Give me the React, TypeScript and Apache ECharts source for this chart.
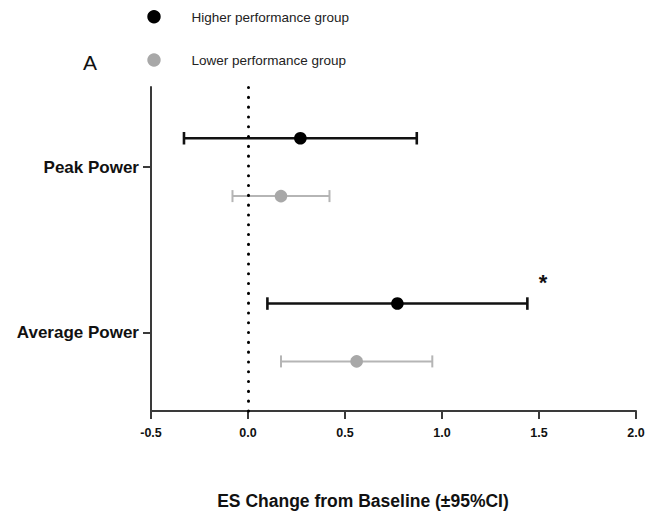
import React, { useEffect, useRef } from "react";
import * as echarts from "echarts";

const categories = ["Peak Power", "Average Power"];
const higherMean = [0.27, 0.77];
const higherLow = [-0.33, 0.1];
const higherHigh = [0.87, 1.44];
const lowerMean = [0.17, 0.56];
const lowerLow = [-0.08, 0.17];
const lowerHigh = [0.42, 0.95];
const xTicks = [-0.5, 0, 0.5, 1.0, 1.5, 2.0];
const groupNames = ["Higher performance group", "Lower performance group"];

const catY = (i: number) => 3 - 2 * i;
const OFFSET = 0.35;

function makeRender(color: string, fill: string, lineW: number, capH: number, r: number) {
  return (params: any, api: any) => {
    const y = api.value(0);
    const lo = api.coord([api.value(1), y]);
    const hi = api.coord([api.value(2), y]);
    const m = api.coord([api.value(3), y]);
    const ls = { stroke: color, lineWidth: lineW };
    return {
      type: "group",
      children: [
        { type: "line", shape: { x1: lo[0], y1: lo[1], x2: hi[0], y2: hi[1] }, style: ls },
        { type: "line", shape: { x1: lo[0], y1: lo[1] - capH / 2, x2: lo[0], y2: lo[1] + capH / 2 }, style: ls },
        { type: "line", shape: { x1: hi[0], y1: hi[1] - capH / 2, x2: hi[0], y2: hi[1] + capH / 2 }, style: ls },
        { type: "circle", shape: { cx: m[0], cy: m[1], r }, style: { fill } },
      ],
    };
  };
}

export default function App() {
  const ref = useRef<HTMLDivElement>(null);
  useEffect(() => {
    if (!ref.current) return;
    const chart = echarts.init(ref.current, undefined, { renderer: "svg" });
    const higherData = categories.map((_, i) => [catY(i) + OFFSET, higherLow[i], higherHigh[i], higherMean[i]]);
    const lowerData = categories.map((_, i) => [catY(i) - OFFSET, lowerLow[i], lowerHigh[i], lowerMean[i]]);
    const font = "'Liberation Sans', Arial, sans-serif";
    chart.setOption({
      animation: false,
      backgroundColor: "#fff",
      grid: { left: 151, right: 12, top: 87, bottom: 110, containLabel: false },
      xAxis: {
        type: "value",
        min: -0.5,
        max: 2.0,
        interval: 0.5,
        splitLine: { show: false },
        axisLine: { onZero: false, lineStyle: { color: "#3a3a3a", width: 2 } },
        axisTick: { show: true, length: 8, lineStyle: { color: "#3a3a3a", width: 2 } },
        axisLabel: {
          margin: 15,
          fontFamily: font,
          fontWeight: "bold",
          fontSize: 12.5,
          color: "#111",
          customValues: xTicks,
          formatter: (v: number) => v.toFixed(1),
        },
      },
      yAxis: {
        type: "value",
        min: 0.05,
        max: 3.97,
        splitLine: { show: false },
        axisLine: { show: true, onZero: false, lineStyle: { color: "#3a3a3a", width: 2 } },
        axisTick: { show: true, length: 8, lineStyle: { color: "#3a3a3a", width: 2 }, customValues: categories.map((_, i) => catY(i)) },
        axisLabel: {
          margin: 12,
          fontFamily: font,
          fontWeight: "bold",
          fontSize: 17,
          color: "#111",
          customValues: categories.map((_, i) => catY(i)),
          formatter: (v: number) => {
            const idx = categories.findIndex((_, i) => Math.abs(catY(i) - v) < 1e-6);
            return idx >= 0 ? categories[idx] : "";
          },
        },
      },
      series: [
        {
          name: groupNames[0],
          type: "custom",
          renderItem: makeRender("#111", "#000", 2.6, 12.5, 6.3),
          encode: { x: [1, 2, 3], y: 0 },
          data: higherData,
          z: 3,
          markLine: {
            silent: true,
            symbol: "none",
            label: { show: false },
            lineStyle: { color: "#000", width: 3, type: [0.1, 9.7], cap: "round" },
            data: [{ xAxis: 0 }],
          },
        },
        {
          name: groupNames[1],
          type: "custom",
          renderItem: makeRender("#b5b5b5", "#a8a8a8", 2, 12, 6.3),
          encode: { x: [1, 2, 3], y: 0 },
          data: lowerData,
          z: 3,
        },
      ],
      graphic: [
        { type: "circle", shape: { cx: 154, cy: 16.7, r: 6.7 }, style: { fill: "#000" } },
        { type: "circle", shape: { cx: 154, cy: 60, r: 6.7 }, style: { fill: "#a8a8a8" } },
        {
          type: "text", x: 191.5, y: 17, style: { text: groupNames[0], font: `13.5px ${font}`, fill: "#222", textVerticalAlign: "middle", textAlign: "left" },
        },
        {
          type: "text", x: 191.5, y: 60.5, style: { text: groupNames[1], font: `13.5px ${font}`, fill: "#222", textVerticalAlign: "middle", textAlign: "left" },
        },
        {
          type: "text", x: 90, y: 62, style: { text: "A", font: `21px ${font}`, fill: "#111", textVerticalAlign: "middle", textAlign: "center" },
        },
        {
          type: "text", x: 543, y: 282, style: { text: "*", font: `bold 22px ${font}`, fill: "#111", textVerticalAlign: "middle", textAlign: "center" },
        },
        {
          type: "text", x: 363, y: 501, style: { text: "ES Change from Baseline (±95%CI)", font: `bold 17.5px ${font}`, fill: "#111", textVerticalAlign: "middle", textAlign: "center" },
        },
      ],
    });
    return () => chart.dispose();
  }, []);
  return <div ref={ref} style={{ position: "absolute", left: 0, top: 0, width: 648, height: 521 }} />;
}
